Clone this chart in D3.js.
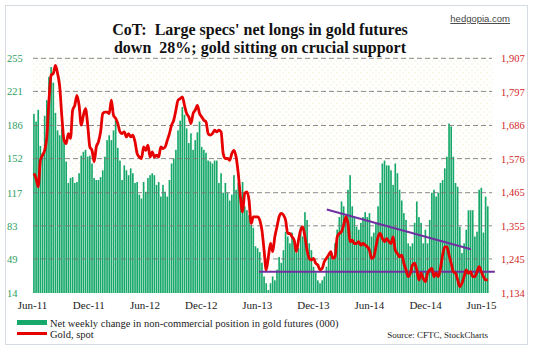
<!DOCTYPE html>
<html>
<head>
<meta charset="utf-8">
<script src="https://cdn.jsdelivr.net/npm/d3@7"></script>
<style>
  body { margin: 0; background: #fff; }
  text { font-family: "Liberation Serif", "Times New Roman", serif; }
</style>
</head>
<body>
<script>
// weekly CoT net longs (000), starting first week of June 2011
const netLongs = [
  198, 190, 202, 165, 157, 196, 212, 236, 246, 230, 199, 181, 176, 183, 168, 149, 127, 132, 133, 127,
  128, 137, 155, 159, 161, 154, 155, 147, 132, 130, 130, 133, 140, 154, 171, 176, 171, 181, 191, 163,
  150, 130,
  145, 140, 135, 142, 137, 127, 128, 115, 111, 128, 118, 132, 135, 137, 135, 125, 128, 113, 125, 118,
  113, 130, 147, 152, 161, 181, 191, 205, 197, 183, 168, 178, 161, 171, 179, 190, 164, 161, 158, 150,
  149, 147,
  150, 150, 127, 137, 117, 127, 117, 109, 115, 135, 120, 127, 113, 128, 103, 99, 94, 84, 81, 62,
  60, 56, 45, 31, 24, 17, 24, 31, 27, 38, 51, 45, 58, 77, 72, 65, 76, 68, 55, 60,
  82, 72,
  97, 89, 65, 58, 41, 35, 27, 24, 27, 31, 41, 51, 55, 48, 65, 79, 92, 108, 103, 92,
  120, 135, 103, 92, 82, 79, 86, 92, 97, 92, 96, 72, 76, 86, 103, 127, 147, 150, 145, 145,
  140, 125,
  147, 137, 120, 109, 96, 89, 65, 62, 65, 86, 108, 92, 86, 65, 79, 65, 89, 117, 120, 113,
  117, 127, 130, 142, 154, 188, 185, 154, 127, 123, 82, 55, 65, 79, 99, 99, 99, 72, 77, 120,
  122, 76, 113, 103
];

// gold spot, same weeks
const goldSpot = [
  1528, 1511, 1484, 1571, 1588, 1604, 1648, 1769, 1851, 1857, 1884, 1857, 1813, 1714, 1637, 1626, 1659, 1643, 1736, 1752,
  1785, 1752, 1687, 1719, 1741, 1687, 1615, 1604, 1566, 1615, 1632, 1665, 1725, 1730, 1730, 1725, 1769, 1719, 1709, 1692,
  1665, 1659,
  1665, 1648, 1659, 1648, 1654, 1632, 1593, 1582, 1577, 1615, 1604, 1621, 1582, 1599, 1582, 1588, 1582, 1615, 1610, 1615,
  1637, 1659, 1687, 1703, 1736, 1769, 1774, 1780, 1752, 1725, 1714, 1692, 1725, 1736, 1752, 1725, 1714, 1703, 1698, 1659,
  1654, 1659,
  1670, 1665, 1670, 1665, 1593, 1577, 1577, 1571, 1593, 1604, 1582, 1528, 1451, 1401, 1462, 1467, 1440, 1363, 1385, 1385,
  1385, 1374, 1341, 1275, 1210, 1253, 1297, 1270, 1319, 1352, 1385, 1396, 1391, 1374, 1330, 1330, 1319, 1308, 1270, 1308,
  1341, 1352,
  1319, 1275, 1248, 1243, 1248, 1232, 1226, 1210, 1215, 1237, 1248, 1259, 1270, 1248, 1253, 1319, 1330, 1336, 1358, 1385,
  1363, 1303, 1308, 1297, 1297, 1303, 1292, 1297, 1292, 1286, 1275, 1248, 1253, 1286, 1319, 1330, 1314, 1303, 1314, 1303,
  1297, 1319,
  1275, 1264, 1253, 1259, 1232, 1210, 1188, 1199, 1226, 1232, 1210, 1177, 1199, 1182, 1171, 1199, 1210, 1215, 1188, 1199,
  1188, 1215, 1259, 1286, 1286, 1259, 1232, 1204, 1199, 1177, 1155, 1166, 1188, 1210, 1199, 1204, 1188, 1188, 1204, 1221,
  1204, 1188, 1177, 1177
];

const firstWeek = '2011-06-07';
const leftTicks = [14, 49, 83, 117, 152, 186, 221, 255];
const rightTicks = [1134, 1245, 1355, 1465, 1576, 1686, 1797, 1907];
const monthTicks = ['2011-06-01', '2011-12-01', '2012-06-01', '2012-12-01', '2013-06-01',
  '2013-12-01', '2014-06-01', '2014-12-01', '2015-06-01'];
const resistance = [{ date: '2014-01-15', value: 1409 }, { date: '2015-04-29', value: 1278 }];
const support = [{ date: '2013-06-08', value: 1204 }, { date: '2015-07-16', value: 1204 }];

const W = 534, H = 350;
const parse = d3.timeParse('%Y-%m-%d');
const start = parse(firstWeek);
const weeks = netLongs.map((v, i) => d3.timeWeek.offset(start, i));

const svg = d3.select('body').append('svg').attr('width', W).attr('height', H);

// outer frame
svg.append('rect').attr('x', 5.5).attr('y', 5.5).attr('width', 522).attr('height', 339)
  .attr('fill', '#fff').attr('stroke', '#d5dbe2');

const x = d3.scaleTime()
  .domain([d3.timeDay.offset(weeks[0], -3), d3.timeDay.offset(weeks[weeks.length - 1], 4)])
  .range([33, 489]);
const yL = d3.scaleLinear().domain([14, 255]).range([293, 58.3]);
const yR = d3.scaleLinear().domain([1134, 1907]).range([293, 58.3]);

// dotted plot background
const pat = svg.append('defs').append('pattern').attr('id', 'dots')
  .attr('width', 6).attr('height', 6).attr('patternUnits', 'userSpaceOnUse');
pat.append('circle').attr('cx', 1).attr('cy', 1).attr('r', 0.7).attr('fill', '#f1ebc4');
pat.append('circle').attr('cx', 4).attr('cy', 4).attr('r', 0.7).attr('fill', '#f1ebc4');
svg.append('rect').attr('x', 33).attr('y', 56).attr('width', 460).attr('height', 237)
  .attr('fill', 'url(#dots)');

// bars
const bw = 1.65;
svg.append('g').selectAll('rect').data(netLongs).join('rect')
  .attr('x', (d, i) => x(weeks[i]) - bw / 2)
  .attr('y', d => yL(d))
  .attr('width', bw)
  .attr('height', d => yL(14) - yL(d))
  .attr('fill', '#16a86a');

// grid
svg.append('g').selectAll('line').data(leftTicks.slice(1)).join('line')
  .attr('x1', 33).attr('x2', 492)
  .attr('y1', d => yL(d)).attr('y2', d => yL(d))
  .attr('stroke', '#777').attr('stroke-opacity', 0.85)
  .attr('stroke-width', 1).attr('stroke-dasharray', '5,3');

// trend lines
const tline = d3.line().x(d => x(parse(d.date))).y(d => yR(d.value));
[resistance, support].forEach(seg => {
  svg.append('path').attr('d', tline(seg)).attr('fill', 'none')
    .attr('stroke', '#7030a0').attr('stroke-width', 2);
});

// gold line
const gline = d3.line().x((d, i) => x(weeks[i])).y(d => yR(d)).curve(d3.curveMonotoneX);
svg.append('path').datum(goldSpot).attr('d', gline).attr('fill', 'none')
  .attr('stroke', '#e60000').attr('stroke-width', 2.8).attr('stroke-linejoin', 'round');

// axes
const axL = svg.append('g').attr('transform', 'translate(7,0)')
  .call(d3.axisRight(yL).tickValues(leftTicks).tickSize(0).tickPadding(0));
axL.select('.domain').remove();
axL.selectAll('text').attr('fill', '#2e9e62').style('font-size', '10.5px');

const axR = svg.append('g').attr('transform', 'translate(501,0)')
  .call(d3.axisRight(yR).tickValues(rightTicks).tickSize(0).tickPadding(0).tickFormat(d3.format(',')));
axR.select('.domain').remove();
axR.selectAll('text').attr('fill', '#d21f1f').style('font-size', '10.5px');

const axB = svg.append('g').attr('transform', 'translate(0,298)')
  .call(d3.axisBottom(x).tickValues(monthTicks.map(parse)).tickSize(0).tickPadding(3)
    .tickFormat(d3.timeFormat('%b-%y')));
axB.select('.domain').remove();
axB.selectAll('text').attr('fill', '#222').style('font-size', '11px');

// title
const title = svg.append('text').attr('text-anchor', 'middle').attr('xml:space', 'preserve')
  .style('font-size', '16px').style('font-weight', 'bold').style('white-space', 'pre').attr('fill', '#111');
title.append('tspan').attr('x', 260).attr('y', 35).text("CoT:  Large specs' net longs in gold futures");
title.append('tspan').attr('x', 260).attr('y', 53).text('down  28%; gold sitting on crucial support');

svg.append('text').attr('x', 510).attr('y', 22).attr('text-anchor', 'end')
  .style('font-size', '9.5px').style('font-family', 'Liberation Sans, Arial, sans-serif')
  .style('text-decoration', 'underline').attr('fill', '#444').text('hedgopia.com');

// legend
svg.append('rect').attr('x', 17).attr('y', 320).attr('width', 30).attr('height', 5).attr('fill', '#16a86a');
svg.append('line').attr('x1', 17).attr('x2', 47).attr('y1', 333.5).attr('y2', 333.5)
  .attr('stroke', '#e60000').attr('stroke-width', 3);
svg.append('text').attr('x', 50).attr('y', 327).style('font-size', '10.5px').attr('fill', '#222')
  .text('Net weekly change in non-commercial position in gold futures (000)');
svg.append('text').attr('x', 50).attr('y', 338).style('font-size', '10.5px').attr('fill', '#222')
  .text('Gold, spot');
svg.append('text').attr('x', 488).attr('y', 338).attr('text-anchor', 'end')
  .style('font-size', '9px').attr('fill', '#222').text('Source: CFTC, StockCharts');
</script>
</body>
</html>
